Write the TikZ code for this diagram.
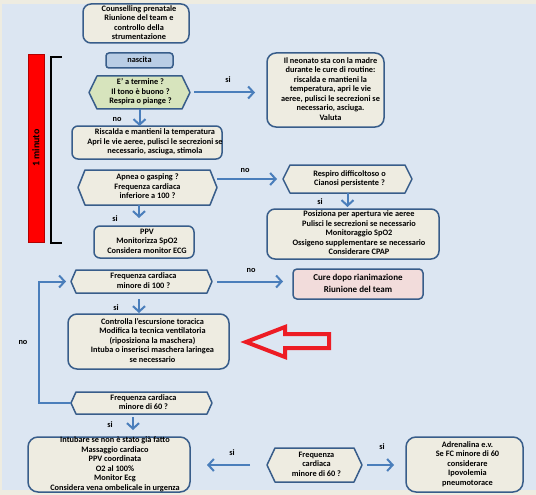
\documentclass[tikz,border=0pt]{standalone}
\usepackage{fontspec}
\setmainfont{Carlito}
\usetikzlibrary{arrows.meta,calc}
\definecolor{pagebg}{HTML}{EEECE1}
\definecolor{panel}{HTML}{DCE6F2}
\definecolor{boxfill}{HTML}{EEECE1}
\definecolor{boxline}{HTML}{385D8A}
\definecolor{arrowc}{HTML}{4A7EBB}
\definecolor{nasc}{HTML}{B9CDE5}
\definecolor{greenA}{HTML}{D7E4BD}
\definecolor{pinkA}{HTML}{F2DCDB}
\definecolor{redA}{HTML}{ED1C24}
\pgfdeclarelayer{background}
\pgfsetlayers{background,main}
\newcommand\tx[2][0]{\smash{\raisebox{-2pt}{\makebox[0pt][c]{\hspace*{#1pt}\begin{tabular}{@{}c@{}}#2\end{tabular}\hspace*{-#1pt}}}}}
\newcommand\hexdraw[3]{\begin{pgfonlayer}{background}\filldraw[draw=boxline,fill=#3,line width=1.5pt,line join=round] (#1.west) -- ([xshift=#2pt]#1.north west) -- ([xshift=-#2pt]#1.north east) -- (#1.east) -- ([xshift=-#2pt]#1.south east) -- ([xshift=#2pt]#1.south west) -- cycle;\end{pgfonlayer}}
\tikzset{
  box/.style={draw=boxline, fill=boxfill, line width=1.5pt, rounded corners=6pt, inner sep=0pt, outer sep=0pt},
  hexn/.style={inner sep=0pt, outer sep=0pt},
  conn/.style={draw=arrowc, line width=2pt, -{Straight Barb[length=5.5pt,width=12pt]}},
  lab/.style={inner sep=0pt},
  every node/.style={font=\fontsize{8.3}{9.5}\selectfont\bfseries},
}
\begin{document}
\begin{tikzpicture}[x=1pt,y=-1pt]
\useasboundingbox (0,0) rectangle (536,495);
\begin{pgfonlayer}{background}
\fill[pagebg] (0,0) rectangle (536,495);
\fill[panel] (2,4) rectangle (536,490);
\end{pgfonlayer}

% timer bar and bracket
\node[draw=red!70!black, line width=0.4pt, fill=red, text=black, rotate=90, minimum width=188pt, minimum height=16pt, inner sep=0pt, font=\fontsize{10}{12}\selectfont\bfseries] (bar) at (36,148) {1 minuto};
\draw[line width=2.2pt] (62,57) -- (51,57) -- (51,243) -- (62,243);

% boxes
\node[box, rounded corners=8pt, minimum width=106pt, minimum height=39pt] (counsel) at (136,23.5) {\tx[3]{Counselling prenatale\\Riunione del team e\\controllo della\\strumentazione}};
\node[box, fill=nasc, rounded corners=3pt, minimum width=67pt, minimum height=15pt] (nascita) at (139.5,60.5) {\tx{nascita}};
\node[hexn, minimum width=101pt, minimum height=33pt] (hexA) at (139.5,92.5) {\tx[1]{E' a termine ?\\Il tono è buono ?\\Respira o piange ?}};
\hexdraw{hexA}{8}{greenA}
\node[box, rounded corners=9pt, minimum width=117pt, minimum height=74pt] (neonato) at (325.5,90) {\tx[5]{Il neonato sta con la madre\\durante le cure di routine:\\riscalda e mantieni la\\temperatura, apri le vie\\aeree, pulisci le secrezioni se\\necessario, asciuga.\\Valuta}};
\node[box, minimum width=150pt, minimum height=33pt] (riscalda) at (147,142.5) {\tx[8]{Riscalda e mantieni la temperatura\\Apri le vie aeree, pulisci le secrezioni se\\necessario, asciuga, stimola}};
\node[hexn, minimum width=139pt, minimum height=35pt] (apnea) at (147.5,187.5) {\tx{Apnea o gasping ?\\Frequenza cardiaca\\inferiore a 100 ?}};
\hexdraw{apnea}{7}{boxfill}
\node[hexn, minimum width=129pt, minimum height=28pt] (respiro) at (347.5,179) {\tx[2]{Respiro difficoltoso o\\Cianosi persistente ?}};
\hexdraw{respiro}{7}{boxfill}
\node[box, minimum width=100pt, minimum height=32pt] (ppv) at (144,242) {\tx[3]{PPV\\Monitorizza SpO2\\Considera monitor ECG}};
\node[box, rounded corners=8pt, minimum width=172pt, minimum height=50pt] (posiz) at (353,234) {\tx[6]{Posiziona per apertura vie aeree\\Pulisci le secrezioni se necessario\\Monitoraggio SpO2\\Ossigeno supplementare se necessario\\Considerare CPAP}};
\node[hexn, minimum width=141pt, minimum height=23pt] (f100) at (141.5,281.5) {\tx[2]{Frequenza cardiaca\\minore di 100 ?}};
\hexdraw{f100}{5}{boxfill}
\node[box, fill=pinkA, rounded corners=4pt, minimum width=130pt, minimum height=30pt, font=\fontsize{9}{12}\selectfont\bfseries] (cure) at (358,284) {\tx{Cure dopo rianimazione\\Riunione del team}};
\node[box, rounded corners=9pt, minimum width=161pt, minimum height=55pt] (ctrl) at (148.5,341.5) {\tx[4]{Controlla l’escursione toracica\\Modifica la tecnica ventilatoria\\(riposiziona la maschera)\\Intuba o inserisci maschera laringea\\se necessario}};
\node[hexn, minimum width=141pt, minimum height=22pt] (f60) at (141.5,403) {\tx[2]{Frequenza cardiaca\\minore di 60 ?}};
\hexdraw{f60}{5}{boxfill}
\node[box, rounded corners=10pt, minimum width=162pt, minimum height=55pt] (intub) at (109,464.5) {\tx[6]{Intubare se non è stato già fatto\\Massaggio cardiaco\\PPV coordinata\\O2 al 100\%\\Monitor Ecg\\Considera vena ombelicale in urgenza}};
\node[hexn, minimum width=95pt, minimum height=34pt] (hexB) at (314.5,465) {\tx[2]{Frequenza\\cardiaca\\minore di 60 ?}};
\hexdraw{hexB}{8}{boxfill}
\node[box, rounded corners=10pt, minimum width=117pt, minimum height=55pt] (adren) at (464.5,464.5) {\tx[3]{Adrenalina e.v.\\Se FC minore di 60\\considerare\\Ipovolemia\\pneumotorace}};

% red outline arrow
\draw[redA, line width=4pt] (246,342) -- (285,327) -- (285,334) -- (329,334) -- (329,348) -- (285,348) -- (285,357) -- cycle;

% connectors
\draw[conn, shorten <=4pt, shorten >=12pt] (hexA.east) -- (hexA.east -| neonato.west);
\draw[conn] (hexA.south) -- (hexA.south |- riscalda.north);
\draw[conn, shorten >=6pt] (respiro.west -| apnea.east) -- (respiro.west);
\draw[conn, shorten >=8pt] ([xshift=-8.5pt]apnea.south) -- ([xshift=-8.5pt]apnea.south |- ppv.north);
\draw[conn, shorten >=2pt] (respiro.south) -- (respiro.south |- posiz.north);
\draw[conn, shorten <=5pt, shorten >=10pt] (f100.east) -- (f100.east -| cure.west);
\draw[conn, shorten <=6pt, shorten >=1pt] ([xshift=-2.5pt]f100.south) -- ([xshift=-2.5pt]f100.south |- ctrl.north);
\draw[conn, shorten >=5pt] (f60.west) -- ++(-32,0) |- (f100.west);
\draw[conn, shorten <=3pt, shorten >=7pt] ([xshift=-8.5pt]f60.south) -- ([xshift=-8.5pt]f60.south |- intub.north);
\draw[conn, shorten <=17pt, shorten >=17pt] (hexB.west) -- (hexB.west -| intub.east);
\draw[conn, shorten <=5pt, shorten >=12pt] (hexB.east) -- (hexB.east -| adren.west);

% connector labels
\node[lab] (l1) at (228,80) {si};
\node[lab] (l2) at (117,119) {no};
\node[lab] (l3) at (245,170) {no};
\node[lab] (l4) at (115,219) {si};
\node[lab] (l5) at (320,202) {si};
\node[lab] (l6) at (251,270) {no};
\node[lab] (l7) at (116,308) {si};
\node[lab] (l8) at (23,342) {no};
\node[lab] (l9) at (110,425) {si};
\node[lab] (l10) at (232,453) {si};
\node[lab] (l11) at (382,447) {si};
\end{tikzpicture}
\end{document}
